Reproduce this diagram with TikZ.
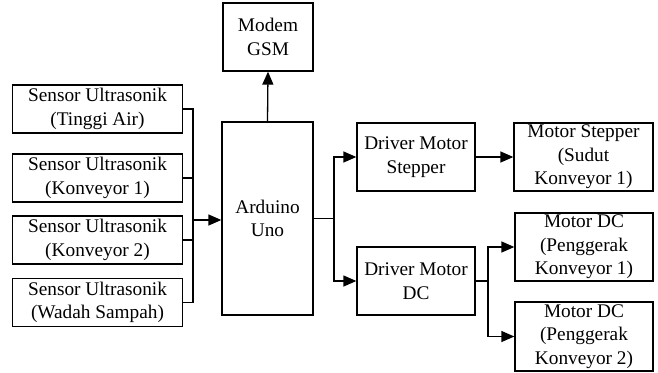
\documentclass[tikz,border=0pt]{standalone}
\usepackage{fontspec}
\setmainfont{Liberation Serif}
\usetikzlibrary{arrows.meta}
\begin{document}
\begin{tikzpicture}[x=1pt,y=-1pt,
  blk/.style={draw,line width=1.3pt,inner sep=0pt,align=center,font=\fontsize{19.3}{23.5}\selectfont},
  wire/.style={line width=1.3pt},
  arr/.style={line width=1.3pt,-{Triangle[length=13pt,width=11pt]}}]
\useasboundingbox (0,0) rectangle (658,372);
\node[blk,minimum width=170pt,minimum height=48pt] (s1) at (97.5,109) {Sensor Ultrasonik\\(Tinggi Air)};
\node[blk,minimum width=170pt,minimum height=48pt] (s2) at (97.5,178) {Sensor Ultrasonik\\(Konveyor 1)};
\node[blk,minimum width=170pt,minimum height=48pt] (s3) at (97.5,240) {Sensor Ultrasonik\\(Konveyor 2)};
\node[blk,minimum width=170pt,minimum height=48pt] (s4) at (97.5,302.5) {Sensor Ultrasonik\\(Wadah Sampah)};
\node[blk,minimum width=91pt,minimum height=193pt] (ard) at (267.5,218.5) {Arduino\\Uno};
\node[blk,minimum width=90pt,minimum height=68pt] (gsm) at (268,37) {Modem\\GSM};
\node[blk,minimum width=118pt,minimum height=68pt] (ds) at (416,157) {Driver Motor\\Stepper};
\node[blk,minimum width=118pt,minimum height=68pt] (dd) at (416,281) {Driver Motor\\DC};
\node[blk,minimum width=139pt,minimum height=68pt] (ms) at (583.5,157) {Motor Stepper\\(Sudut\\Konveyor 1)};
\node[blk,minimum width=138pt,minimum height=68pt] (m1) at (584,247) {Motor DC\\(Penggerak\\Konveyor 1)};
\node[blk,minimum width=138pt,minimum height=69pt] (m2) at (584,336.5) {Motor DC\\(Penggerak\\Konveyor 2)};
\coordinate (j) at (193,220);
\coordinate (k) at (334,218.5);
\coordinate (m) at (488,281);
\draw[wire] (s1.east) -| (j);
\draw[wire] (s2.east) -| (j);
\draw[wire] (s3.east) -| (j);
\draw[wire] (s4.east) -| (j);
\draw[arr] (j) -- (ard.west |- j);
\draw[arr] (ard.north) -- (gsm.south);
\draw[wire] (ard.east |- k) -- (k);
\draw[arr] (k) |- (ds.west);
\draw[arr] (k) |- (dd.west);
\draw[arr] (ds.east) -- (ms.west);
\draw[wire] (dd.east) -- (m);
\draw[arr] (m) |- (m1.west);
\draw[arr] (m) |- (m2.west);
\end{tikzpicture}
\end{document}
